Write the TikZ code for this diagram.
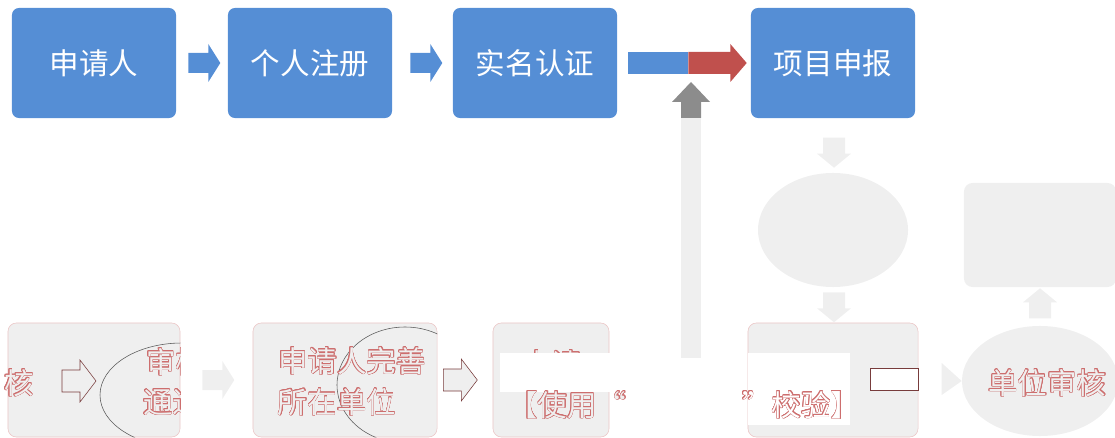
\documentclass[tikz,border=0pt]{standalone}
\usepackage{fontspec}
\newfontfamily\cjk{Noto Sans CJK SC}
\usepackage[copies]{contour}
\contourlength{0.3pt}
\contournumber{16}
\usetikzlibrary{positioning,calc,shapes.geometric}
\definecolor{stepblue}{RGB}{85,142,213}
\definecolor{stepred}{RGB}{192,80,77}
\definecolor{arrowgray}{RGB}{140,140,140}
\definecolor{palegray}{RGB}{239,239,239}
\definecolor{inkred}{RGB}{205,110,110}
\definecolor{darkbrown}{RGB}{120,60,60}
\newcommand{\hollow}[1]{\contour{inkred}{\color{palegray}#1}}

\begin{document}
\begin{tikzpicture}[x=0.025cm, y=-0.025cm,
    topbox/.style={fill=stepblue, rounded corners=5pt, minimum width=4.1cm,
        minimum height=2.75cm, text=white, font=\cjk\fontsize{21}{25}\selectfont},
    lowbox/.style={fill=palegray, draw=inkred!40, rounded corners=6pt,
        minimum height=2.85cm},
    hollowtext/.style={font=\cjk\fontsize{21}{25}\selectfont, inner sep=0pt},
    rarrow/.pic={\fill (0,-10) -- (20,-10) -- (20,-19) -- (32,0) -- (20,19) -- (20,10) -- (0,10) -- cycle;},
    oarrow/.pic={\filldraw (0,-11) -- (18,-11) -- (18,-21) -- (34,0) -- (18,21) -- (18,11) -- (0,11) -- cycle;},
    darrow/.pic={\fill (-11,0) -- (11,0) -- (11,16) -- (17,16) -- (0,30) -- (-17,16) -- (-11,16) -- cycle;}]
    \useasboundingbox (0,0) rectangle (1115,438);
    \clip (0,0) rectangle (1115,438);

    % Top row
    \node [topbox] (applicant) at (94,63) {申请人};
    \node [topbox] (register) at (310,63) {个人注册};
    \node [topbox] (realname) at (535,63) {实名认证};
    \node [topbox] (declare) at (833,63) {项目申报};
    \pic [stepblue] at ($(applicant.east)+(12,0)$) {rarrow};
    \pic [stepblue] at ($(register.east)+(18,0)$) {rarrow};
    \fill [stepblue] ($(realname.east)+(11,-11)$) rectangle ++(60,22);
    \fill [stepred] ($(realname.east)+(71,-11)$) -- ++(42,0) -- ++(0,-8)
        -- ($(declare.west)+(-4,0)$) -- ($(realname.east)+(113,19)$)
        -- ++(0,-8) -- ++(-42,0) -- cycle;

    % Up arrow
    \coordinate (uptip) at (691,82);
    \fill [palegray] ($(uptip)+(-10,36)$) rectangle (701,358);
    \fill [arrowgray] (uptip) -- ++(19,20) -- ++(-9,0) -- ++(0,16) -- ++(-20,0)
        -- ++(0,-16) -- ++(-9,0) -- cycle;

    % Right part
    \node [ellipse, fill=palegray, minimum width=3.75cm, minimum height=2.85cm] (check) at (833,230) {};
    \node [fill=palegray, rounded corners=6pt, minimum width=3.8cm, minimum height=2.6cm] (result) at (1040,235) {};
    \pic [palegray] at ($(check.north)+(1,-35)$) {darrow};
    \pic [palegray] at ($(check.south)+(1,5)$) {darrow};
    \pic [palegray, rotate=180] at ($(result.south)+(0,31)$) {darrow};

    % Bottom row
    \node [lowbox, minimum width=4.3cm] (boxA) at (94,380) {};
    \node [lowbox, minimum width=4.6cm] (boxB) at (345,380) {};
    \node [lowbox, minimum width=2.9cm] (boxC) at (551,380) {};
    \node [lowbox, minimum width=4.25cm] (boxD) at (833,380) {};
    \node [ellipse, fill=palegray, minimum width=3.9cm, minimum height=2.75cm] (unit) at (1040,381) {};

    \node [hollowtext, anchor=west] (checkA) at (4,383) {\hollow{核}};
    \begin{scope}
        \clip [rounded corners=6pt] (boxA.south west) rectangle (boxA.north east);
        \draw [gray!70!black, thin] (182,395) ellipse [x radius=82, y radius=52];
        \node [hollowtext, anchor=west] (passA) at (146,362) {\hollow{审核}};
        \node [hollowtext, anchor=west] (passB) at (143,402) {\hollow{通过}};
    \end{scope}
    \pic [fill=palegray, draw=darkbrown] at (62,381) {oarrow};
    \pic [palegray] at ($(boxA.east)+(22,0)$) {rarrow};

    \begin{scope}
        \clip [rounded corners=6pt] (boxB.south west) rectangle (boxB.north east);
        \draw [gray!70!black, thin] (405,385) ellipse [x radius=68, y radius=58];
    \end{scope}
    \node [hollowtext] (applyB) at (352,361) {\hollow{申请人完善}};
    \node [hollowtext] (unitB) at (337,402) {\hollow{所在单位}};
    \pic [fill=palegray, draw=darkbrown] at ($(boxB.east)+(6,0)$) {oarrow};

    \node [hollowtext, anchor=west] (applyC) at (522,364) {\hollow{申请}};
    \fill [white] (500,353) rectangle (610,392);
    \node [hollowtext, anchor=west] (useC) at (508,405) {\hollow{【使用“}};

    \fill [white] (boxD.west |- 0,353) rectangle (850,425);
    \node [hollowtext, anchor=west] (verifyD) at (742,405) {\contour{inkred}{\color{white}”校验】}};
    \draw [darkbrown, fill=white] (870,368) rectangle (boxD.east |- 0,390);
    \fill [palegray] ($(unit.west)+(-20,-18)$) -- (unit.west) -- ($(unit.west)+(-20,14)$) -- cycle;
    \node [hollowtext, anchor=west] (unitcheck) at (988,383) {\hollow{单位审核}};
\end{tikzpicture}
\end{document}
